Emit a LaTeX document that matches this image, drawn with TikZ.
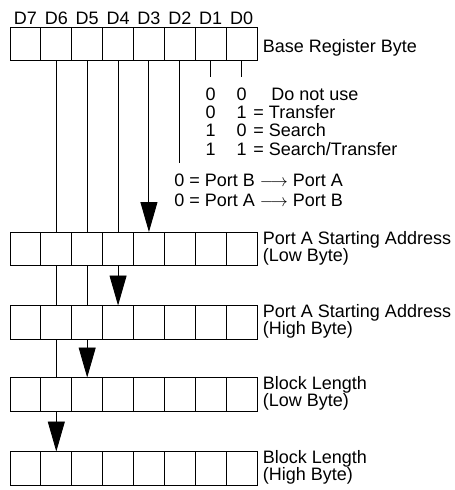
\documentclass[tikz,border=0pt]{standalone}
\usepackage{fontspec}
\setmainfont{Liberation Sans}
\usetikzlibrary{arrows.meta}
\begin{document}
\begin{tikzpicture}[x=1pt,y=-1pt,line width=0.9pt,
  cell/.style={draw,minimum width=30.875pt,minimum height=33.5pt,inner sep=0pt,outer sep=0pt},
  lbl/.style={inner sep=0pt,font=\fontsize{18}{17}\selectfont},
  bigarrow/.style={-{Triangle[width=17pt,length=30pt]}}]
\useasboundingbox (0,0) rectangle (455,490);
\foreach \r/\y in {1/44,2/248.75,3/322.25,4/394.25,5/468.25}
  \foreach \b in {0,...,7}
    \node[cell] (r\r-d\b) at ({25.44+30.875*(7-\b)},\y) {};
\foreach \b in {0,...,7}
  \node[lbl,anchor=base] (hd\b) at ([yshift=3pt]r1-d\b.north) {D\b};
\node[lbl,anchor=base west] (basereg) at ([xshift=5.5pt,yshift=-8pt]r1-d0.east) {Base Register Byte};
\node[lbl,anchor=north west,align=left] (lowA) at ([xshift=5.5pt,yshift=1pt]r2-d0.north east) {Port A Starting Address\\(Low Byte)};
\node[lbl,anchor=north west,align=left] (highA) at ([xshift=5.5pt,yshift=1pt]r3-d0.north east) {Port A Starting Address\\(High Byte)};
\node[lbl,anchor=north west,align=left] (lowL) at ([xshift=5.5pt,yshift=1pt]r4-d0.north east) {Block Length\\(Low Byte)};
\node[lbl,anchor=north west,align=left] (highL) at ([xshift=5.5pt,yshift=1pt]r5-d0.north east) {Block Length\\(High Byte)};
\foreach \b in {6,5,4} \draw (r1-d\b.south) -- (r2-d\b.north);
\draw[bigarrow] (r1-d3.south) -- (r2-d3.north);
\foreach \b in {6,5} \draw (r2-d\b.south) -- (r3-d\b.north);
\draw[bigarrow] (r2-d4.south) -- (r3-d4.north);
\draw (r3-d6.south) -- (r4-d6.north);
\draw[bigarrow] (r3-d5.south) -- (r4-d5.north);
\draw[bigarrow] (r4-d6.south) -- (r5-d6.north);
\coordinate (dirend) at (r1-d2 |- 0,163);
\coordinate (hiend) at (r1-d1 |- 0,77);
\coordinate (loend) at (r1-d0 |- 0,77);
\draw (r1-d2.south) -- (dirend);
\draw (r1-d1.south) -- (hiend);
\draw (r1-d0.south) -- (loend);
\foreach \hi/\lo/\y [count=\i] in {0/0/100,0/1/118.3,1/0/136.6,1/1/155} {
  \node[lbl,anchor=base] (hi\i) at (r1-d1 |- 0,\y) {\hi};
  \node[lbl,anchor=base] (lo\i) at (r1-d0 |- 0,\y) {\lo};
}
\node[lbl,anchor=base west] (mode1) at (271,100) {Do not use};
\node[lbl,anchor=base west] (mode2) at (253,118.3) {= Transfer};
\node[lbl,anchor=base west] (mode3) at (253,136.6) {= Search};
\node[lbl,anchor=base west] (mode4) at (253,155) {= Search/Transfer};
\node[lbl,anchor=base west] (dirB) at (174,186) {0 = Port B $\longrightarrow$ Port A};
\node[lbl,anchor=base west] (dirA) at (174,206) {0 = Port A $\longrightarrow$ Port B};
\end{tikzpicture}
\end{document}
